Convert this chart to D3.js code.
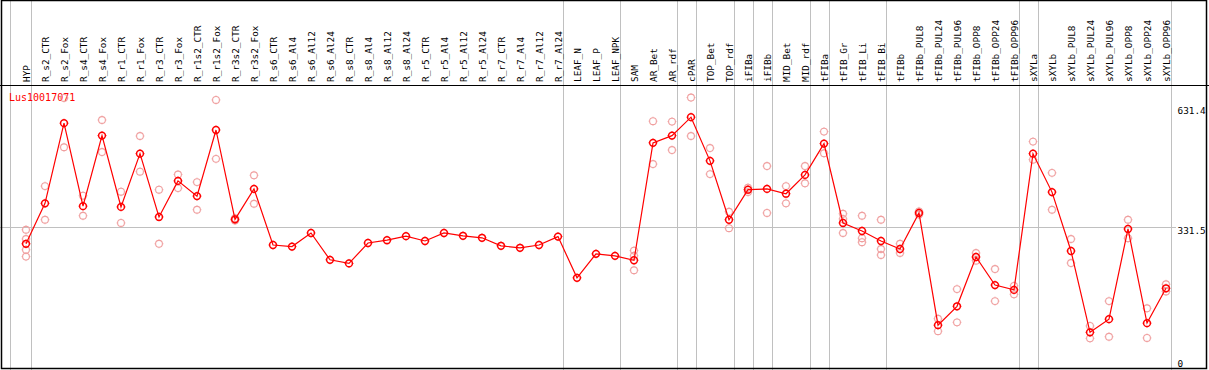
<!DOCTYPE html>
<html>
  <head>
    <title>Lus10017071</title>
    <script src="https://d3js.org/d3.v7.min.js"></script>
    <style>
      body { margin: 0; background: #fff; }
      text { font-family: "DejaVu Sans Mono", monospace; }
    </style>
  </head>
  <body>
    <div id="chart"></div>
    <script>
      // Tissue / condition columns
      const categories = [
        'HYP', 'R_s2_CTR', 'R_s2_Fox', 'R_s4_CTR', 'R_s4_Fox', 'R_r1_CTR', 'R_r1_Fox',
        'R_r3_CTR', 'R_r3_Fox', 'R_r1s2_CTR', 'R_r1s2_Fox', 'R_r3s2_CTR', 'R_r3s2_Fox',
        'R_s6_CTR', 'R_s6_Al4', 'R_s6_Al12', 'R_s6_Al24', 'R_s8_CTR', 'R_s8_Al4',
        'R_s8_Al12', 'R_s8_Al24', 'R_r5_CTR', 'R_r5_Al4', 'R_r5_Al12', 'R_r5_Al24',
        'R_r7_CTR', 'R_r7_Al4', 'R_r7_Al12', 'R_r7_Al24', 'LEAF_N', 'LEAF_P', 'LEAF_NPK',
        'SAM', 'AR_Bet', 'AR_rdf', 'cPAR', 'TOP_Bet', 'TOP_rdf', 'iFIBa', 'iFIBb',
        'MID_Bet', 'MID_rdf', 'tFIBa', 'tFIB_Gr', 'tFIB_Li', 'tFIB_Bi', 'tFIBb',
        'tFIBb_PUL8', 'tFIBb_PUL24', 'tFIBb_PUL96', 'tFIBb_OPP8', 'tFIBb_OPP24', 'tFIBb_OPP96',
        'sXYLa', 'sXYLb', 'sXYLb_PUL8', 'sXYLb_PUL24', 'sXYLb_PUL96', 'sXYLb_OPP8',
        'sXYLb_OPP24', 'sXYLb_OPP96'
      ];

      // mean expression per column
      const means = [
        290, 391, 591, 384, 560, 382, 515, 357, 447, 409, 574, 351, 427,
        287, 283, 317, 250, 241, 292, 299, 309, 297, 317, 310, 305,
        285, 280, 287, 308, 205, 265, 260,
        249, 542, 560, 606, 497, 350, 425, 427, 415, 462, 540,
        342, 322, 297, 277, 367, 87, 134, 257, 187, 175,
        515, 419, 272, 69, 102, 327, 92, 179
      ];

      // individual replicates per column
      const replicates = [
        [325, 302, 275, 258], [434, 350], [654, 531], [410, 360], [599, 519], [420, 342],
        [559, 470], [425, 290], [463, 429], [444, 375], [649, 502], [354, 348], [461, 390],
        [], [], [], [], [], [], [], [], [], [], [], [],
        [], [], [], [], [], [], [],
        [273, 260, 224], [596, 489], [595, 524], [655, 559], [529, 464], [370, 329],
        [430, 419], [484, 367], [434, 391], [484, 441], [570, 516],
        [365, 352, 317], [360, 304, 294], [350, 277, 262], [290, 267], [371, 363],
        [103, 72], [177, 94], [267, 248], [227, 147], [185, 164],
        [545, 500], [467, 375], [302, 242], [85, 54], [147, 58], [350, 304], [129, 55], [189, 171]
      ];

      // a grey divider is drawn after these columns
      const groupEnds = ['HYP', 'R_r7_Al24', 'LEAF_NPK', 'AR_rdf', 'cPAR', 'TOP_rdf', 'iFIBa',
        'iFIBb', 'MID_rdf', 'tFIBa', 'tFIB_Bi', 'tFIBb_OPP96', 'sXYLa', 'sXYLb_OPP96'];

      const yTicks = [631.4, 331.5, 0];
      const title = 'Lus10017071';

      const width = 1209, height = 370;
      const red = '#ff0000', pink = '#f0a0a0', grey = '#c0c0c0';

      const svg = d3.select('#chart').append('svg')
        .attr('width', width)
        .attr('height', height);

      const x = d3.scalePoint()
        .domain(categories)
        .range([26, 1166]);

      const y = d3.scaleLinear()
        .domain([0, 631.4])
        .range([360, 107]);

      // grey dividers
      svg.append('line')
        .attr('x1', x(categories[0]) - 15.5).attr('x2', x(categories[0]) - 15.5)
        .attr('y1', 0).attr('y2', height)
        .attr('stroke', grey);
      svg.selectAll('.divider')
        .data(groupEnds)
        .enter().append('line')
        .attr('class', 'divider')
        .attr('x1', d => Math.round(x(d) + 4.5) + 0.5)
        .attr('x2', d => Math.round(x(d) + 4.5) + 0.5)
        .attr('y1', 0).attr('y2', height)
        .attr('stroke', grey);

      // horizontal gridline at the middle tick
      svg.append('line')
        .attr('x1', 0).attr('x2', 1176)
        .attr('y1', Math.round(y(yTicks[1])) + 0.5)
        .attr('y2', Math.round(y(yTicks[1])) + 0.5)
        .attr('stroke', grey);

      // frame and label separator
      svg.append('rect')
        .attr('x', 1.5).attr('y', 0.5)
        .attr('width', 1205).attr('height', 368)
        .attr('fill', 'none')
        .attr('stroke', '#000')
        .attr('stroke-width', 1.5);
      svg.append('line')
        .attr('x1', 0).attr('x2', width)
        .attr('y1', 85.5).attr('y2', 85.5)
        .attr('stroke', '#000')
        .attr('stroke-width', 1.2);

      // column labels (vertical)
      svg.selectAll('.collabel')
        .data(categories)
        .enter().append('text')
        .attr('class', 'collabel')
        .attr('transform', d => 'translate(' + x(d) + ',82) rotate(-90)')
        .attr('dominant-baseline', 'central')
        .attr('font-size', 9.4)
        .attr('fill', '#000')
        .text(d => d);

      // right-hand value labels
      svg.selectAll('.ytick')
        .data(yTicks)
        .enter().append('text')
        .attr('class', 'ytick')
        .attr('x', 1177.5)
        .attr('y', d => y(d) + 6.5)
        .attr('font-size', 9.4)
        .attr('fill', '#000')
        .text(d => d === 0 ? '0' : d.toFixed(1));

      // gene id
      svg.append('text')
        .attr('x', 9)
        .attr('y', 101)
        .attr('font-size', 10)
        .attr('fill', red)
        .text(title);

      function marker(g, cx, cy, color, sw) {
        const r = 3.4;
        g.append('circle')
          .attr('cx', cx).attr('cy', cy).attr('r', r)
          .attr('fill', 'none')
          .attr('stroke', color)
          .attr('stroke-width', sw);
        [[0, -1], [0, 1], [-1, 0], [1, 0]].forEach(([dx, dy]) => {
          g.append('line')
            .attr('x1', cx + dx * r).attr('y1', cy + dy * r)
            .attr('x2', cx + dx * (r + 1.1)).attr('y2', cy + dy * (r + 1.1))
            .attr('stroke', color)
            .attr('stroke-width', 0.8);
        });
      }

      // replicate points
      const repG = svg.append('g');
      replicates.forEach((reps, i) => {
        reps.forEach(v => marker(repG, x(categories[i]), y(v), pink, 1.1));
      });

      // mean line
      const line = d3.line()
        .x((d, i) => x(categories[i]))
        .y(d => y(d));
      svg.append('path')
        .datum(means)
        .attr('d', line)
        .attr('fill', 'none')
        .attr('stroke', red)
        .attr('stroke-width', 1.2);

      // mean points
      const meanG = svg.append('g');
      means.forEach((v, i) => marker(meanG, x(categories[i]), y(v), red, 1.5));
    </script>
  </body>
</html>
